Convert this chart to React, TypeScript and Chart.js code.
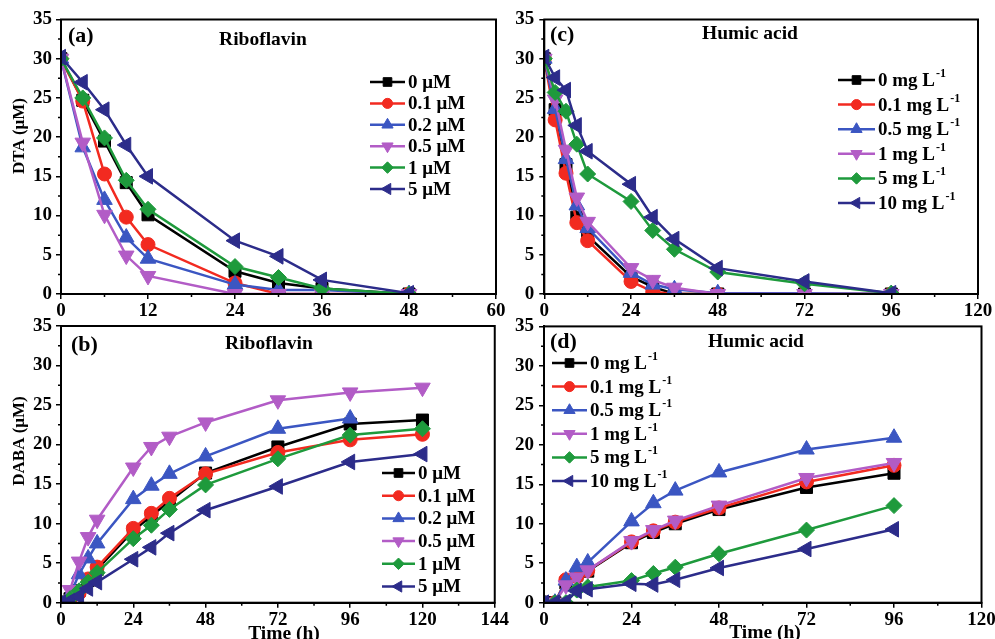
import React, { useEffect, useRef } from "react";
import { Chart, registerables } from "chart.js";
import { drawPoint } from "chart.js/helpers";

Chart.register(...registerables);

const FONT = "'Liberation Serif', 'Times New Roman', serif";

// ---------- DATA ----------
// (a) DTA, riboflavin
const timeA = [0, 3, 6, 9, 12, 24, 30, 36, 48];
const a0 = [30, 24.7, 19.5, 14.2, 10.1, 2.9, 1.4, 0.7, 0];
const a01 = [30, 24.6, 15.3, 9.8, 6.3, 1.4, 0, 0, 0];
const a02 = [30, 18.7, 12.0, 7.2, 4.5, 1.2, 0.5, 0.5, 0];
const a05 = [30, 19.3, 10.1, 4.9, 2.3, 0, 0, 0, 0];
const a1 = [30, 25.0, 19.9, 14.5, 10.8, 3.5, 2.1, 0.7, 0];
const a5 = [30.2, 27.0, 23.5, 19.0, 15.0, 6.8, 4.8, 1.8, 0.1];

// (b) DABA, riboflavin
const timeB = [0, 3, 6, 9, 12, 24, 30, 36, 48, 72, 96, 120];
const b0 = [0, 0.5, 1.5, 2.8, 4.2, 9.1, 11.0, 12.8, 16.4, 19.7, 22.6, 23.1];
const b01 = [0, 0.4, 1.2, 3.0, 4.5, 9.4, 11.3, 13.2, 16.3, 19.0, 20.6, 21.3];
const b02 = [0, 1.0, 3.6, 5.6, 7.5, 13.1, 14.8, 16.3, 18.5, 22.0, 23.3, null];
const b05 = [0, 1.6, 5.2, 8.3, 10.5, 17.1, 19.7, 21.0, 22.8, 25.6, 26.6, 27.2];
const b1 = [0, 0.5, 1.5, 2.6, 3.8, 8.1, 9.8, 11.8, 14.9, 18.2, 21.2, 22.0];
const b5 = [0, 0.2, 0.8, 1.8, 2.6, 5.5, 7.0, 8.8, 11.7, 14.7, 17.8, 18.8];

// (c) DTA, humic acid
const timeC = [0, 3, 6, 9, 12, 24, 30, 36, 48, 72, 96];
const c0 = [30, 23.5, 16.5, 9.8, 7.4, 2.2, 0.9, 0, 0, 0, 0];
const c01 = [30, 22.2, 15.4, 9.1, 6.8, 1.6, 0.3, 0, 0, 0, 0];
const c05 = [30, 23.6, 17.2, 11.3, 8.4, 2.7, 1.2, 0.6, 0.1, 0.1, 0];
const c1 = [30, 24.8, 18.4, 12.3, 9.2, 3.3, 1.8, 0.8, 0, 0, 0];
const c5 = [30, 25.7, 23.3, 19.1, 15.3, 11.8, 8.1, 5.7, 2.8, 1.3, 0.1];
const c10 = [30.2, 27.6, 26.0, 21.5, 18.2, 14.0, 9.8, 7.0, 3.3, 1.6, 0.1];

// (d) DABA, humic acid
const timeD = [0, 3, 6, 9, 12, 24, 30, 36, 48, 72, 96];
const d0 = [0, 0, 2.5, 3.5, 4.0, 7.6, 8.9, 10.0, 11.8, 14.6, 16.4];
const d01 = [0, 0, 2.9, 3.3, 4.1, 7.7, 9.1, 10.2, 12.0, 15.3, 17.4];
const d05 = [0, 0, 2.8, 4.5, 5.1, 10.3, 12.6, 14.2, 16.5, 19.4, 20.9];
const d1 = [0, 0, 2.2, 3.2, 4.1, 7.8, 9.2, 10.4, 12.3, 15.8, 17.7];
const d5 = [0, 0, 0, 1.6, 2.0, 2.8, 3.7, 4.5, 6.2, 9.2, 12.3];
const d10 = [0, 0, 0.1, 1.5, 1.7, 2.4, 2.3, 2.9, 4.4, 6.8, 9.3];

const riboLabels = ["0", "0.1", "0.2", "0.5", "1", "5"];
const humicLabels = ["0", "0.1", "0.5", "1", "5", "10"];

// ---------- STYLES ----------
const COLORS = ["#000000", "#F22A20", "#3B56C2", "#B25CC6", "#1E9A3C", "#2C2C8A"];
const MARKERS = [
  { pointStyle: "rect", rotation: 0, r: 8.5 },
  { pointStyle: "circle", rotation: 0, r: 7 },
  { pointStyle: "triangle", rotation: 0, r: 9 },
  { pointStyle: "triangle", rotation: 180, r: 9 },
  { pointStyle: "rectRot", rotation: 0, r: 8 },
  { pointStyle: "triangle", rotation: -90, r: 9 },
];

type Panel = {
  left: number; top: number; width: number; height: number;
  area: { l: number; t: number; r: number; b: number };
  xMax: number; xStep: number; yPad: number;
  times: number[]; series: (number | null)[][];
  labels: string[]; unit: string; sup: string;
  legend: { x: number; len: number; y0: number; step: number };
  tag: { text: string; x: number; y: number };
  title: { text: string; x: number; y: number };
  yTitle?: { text: string; x: number; y: number };
  xTitle?: { text: string; x: number; y: number };
};

const PANELS: Panel[] = [
  {
    left: 0, top: 0, width: 510, height: 322,
    area: { l: 61, t: 19.5, r: 496, b: 294 },
    xMax: 60, xStep: 12, yPad: 4,
    times: timeA, series: [a0, a01, a02, a05, a1, a5],
    labels: riboLabels, unit: "μM", sup: "",
    legend: { x: 370, len: 35, y0: 82, step: 21.4 },
    tag: { text: "(a)", x: 68, y: 36 },
    title: { text: "Riboflavin", x: 263, y: 40 },
    yTitle: { text: "DTA (μM)", x: 20, y: 136 },
  },
  {
    left: 500, top: 0, width: 495, height: 322,
    area: { l: 44.3, t: 19.5, r: 478, b: 294 },
    xMax: 120, xStep: 24, yPad: 5,
    times: timeC, series: [c0, c01, c05, c1, c5, c10],
    labels: humicLabels, unit: "mg L", sup: "-1",
    legend: { x: 338, len: 37, y0: 80, step: 24.6 },
    tag: { text: "(c)", x: 50, y: 35 },
    title: { text: "Humic acid", x: 250, y: 34 },
  },
  {
    left: 0, top: 310, width: 510, height: 329,
    area: { l: 61, t: 16, r: 495, b: 292.7 },
    xMax: 144, xStep: 24, yPad: 4,
    times: timeB, series: [b0, b01, b02, b05, b1, b5],
    labels: riboLabels, unit: "μM", sup: "",
    legend: { x: 382, len: 33, y0: 163, step: 22.7 },
    tag: { text: "(b)", x: 71, y: 35 },
    title: { text: "Riboflavin", x: 269, y: 34 },
    yTitle: { text: "DABA (μM)", x: 20, y: 131 },
    xTitle: { text: "Time (h)", x: 284, y: 324 },
  },
  {
    left: 500, top: 310, width: 500, height: 329,
    area: { l: 44, t: 16, r: 481.5, b: 292.7 },
    xMax: 120, xStep: 24, yPad: 5,
    times: timeD, series: [d0, d01, d05, d1, d5, d10],
    labels: humicLabels, unit: "mg L", sup: "-1",
    legend: { x: 52, len: 35, y0: 53, step: 23.6 },
    tag: { text: "(d)", x: 50, y: 32 },
    title: { text: "Humic acid", x: 256, y: 32 },
    xTitle: { text: "Time (h)", x: 265, y: 323 },
  },
];

function makeDecor(p: Panel) {
  return {
    id: "decor",
    afterDraw(chart: any) {
      const { ctx, chartArea: a, scales } = chart;
      const xs = scales.x;
      const ys = scales.y;
      ctx.save();
      // frame
      ctx.strokeStyle = "#000";
      ctx.lineWidth = 2;
      ctx.strokeRect(a.left, a.top, a.right - a.left, a.bottom - a.top);
      // minor ticks
      ctx.lineWidth = 1.5;
      ctx.beginPath();
      for (let v = p.xStep / 2; v < p.xMax; v += p.xStep) {
        const px = xs.getPixelForValue(v);
        ctx.moveTo(px, a.bottom);
        ctx.lineTo(px, a.bottom + 3);
      }
      for (let v = 2.5; v < 35; v += 5) {
        const py = ys.getPixelForValue(v);
        ctx.moveTo(a.left - 3, py);
        ctx.lineTo(a.left, py);
      }
      ctx.stroke();
      // legend
      const lg = p.legend;
      p.labels.forEach((lab, i) => {
        const y = lg.y0 + i * lg.step;
        ctx.strokeStyle = COLORS[i];
        ctx.fillStyle = COLORS[i];
        ctx.lineWidth = 2.5;
        ctx.beginPath();
        ctx.moveTo(lg.x, y);
        ctx.lineTo(lg.x + lg.len, y);
        ctx.stroke();
        const m = MARKERS[i];
        ctx.lineWidth = 1;
        drawPoint(ctx, { pointStyle: m.pointStyle as any, rotation: m.rotation, radius: m.r * 0.72, borderWidth: 1 }, lg.x + lg.len / 2, y);
        ctx.fillStyle = "#000";
        ctx.font = `bold 19px ${FONT}`;
        ctx.textAlign = "left";
        ctx.textBaseline = "middle";
        const main = `${lab} ${p.unit}`;
        const tx = lg.x + lg.len + 3;
        ctx.fillText(main, tx, y + 1);
        if (p.sup) {
          const w = ctx.measureText(main).width;
          ctx.font = `bold 12px ${FONT}`;
          ctx.fillText(p.sup, tx + w + 1, y - 6);
        }
      });
      // texts
      ctx.fillStyle = "#000";
      ctx.textBaseline = "middle";
      ctx.font = `bold 22px ${FONT}`;
      ctx.textAlign = "left";
      ctx.fillText(p.tag.text, p.tag.x, p.tag.y);
      ctx.font = `bold 19.5px ${FONT}`;
      ctx.textAlign = "center";
      ctx.fillText(p.title.text, p.title.x, p.title.y);
      if (p.xTitle) {
        ctx.fillText(p.xTitle.text, p.xTitle.x, p.xTitle.y);
      }
      if (p.yTitle) {
        ctx.save();
        ctx.translate(p.yTitle.x, p.yTitle.y);
        ctx.rotate(-Math.PI / 2);
        ctx.font = `bold 17px ${FONT}`;
        ctx.fillText(p.yTitle.text, 0, 0);
        ctx.restore();
      }
      ctx.restore();
    },
  };
}

function PanelChart({ p }: { p: Panel }) {
  const ref = useRef<HTMLCanvasElement | null>(null);
  useEffect(() => {
    if (!ref.current) return;
    const tickFont = { family: FONT, size: 19, weight: "bold" as const };
    const chart = new Chart(ref.current, {
      type: "line",
      data: {
        datasets: p.series.map((s, i) => ({
          label: p.labels[i],
          data: p.times.map((t, j) => ({ x: t, y: s[j] as any })),
          borderColor: COLORS[i],
          backgroundColor: COLORS[i],
          borderWidth: 2.5,
          pointStyle: MARKERS[i].pointStyle as any,
          rotation: MARKERS[i].rotation,
          pointRadius: MARKERS[i].r,
          pointBorderWidth: 1,
          pointBackgroundColor: COLORS[i],
          pointBorderColor: COLORS[i],
          tension: 0,
          spanGaps: false,
          order: 10 - i,
        })),
      },
      options: {
        animation: false,
        responsive: false,
        devicePixelRatio: 1,
        layout: {
          padding: { left: 0, top: p.area.t, right: p.width - p.area.r, bottom: 0 },
        },
        plugins: {
          legend: { display: false },
          tooltip: { enabled: false },
        },
        scales: {
          x: {
            type: "linear",
            min: 0,
            max: p.xMax,
            ticks: { stepSize: p.xStep, font: tickFont, color: "#000", padding: 1, maxRotation: 0, autoSkip: false },
            grid: { display: true, drawOnChartArea: false, drawTicks: true, tickLength: 5, color: "#000", lineWidth: 1.5 },
            border: { display: true, color: "#000", width: 2 },
            afterFit: (s: any) => { s.height = p.height - p.area.b; },
          },
          y: {
            type: "linear",
            min: 0,
            max: 35,
            ticks: { stepSize: 5, font: tickFont, color: "#000", padding: p.yPad },
            grid: { display: true, drawOnChartArea: false, drawTicks: true, tickLength: 5, color: "#000", lineWidth: 1.5 },
            border: { display: true, color: "#000", width: 2 },
            afterFit: (s: any) => { s.width = p.area.l; },
          },
        },
      },
      plugins: [makeDecor(p)],
    });
    return () => chart.destroy();
  }, [p]);
  return (
    <div style={{ position: "absolute", left: p.left, top: p.top, width: p.width, height: p.height }}>
      <canvas ref={ref} width={p.width} height={p.height} style={{ width: p.width, height: p.height, display: "block" }} />
    </div>
  );
}

export default function App() {
  return (
    <div style={{ position: "absolute", left: 0, top: 0, width: 995, height: 639, overflow: "hidden", background: "#fff" }}>
      {PANELS.map((p, i) => (
        <PanelChart key={i} p={p} />
      ))}
    </div>
  );
}
